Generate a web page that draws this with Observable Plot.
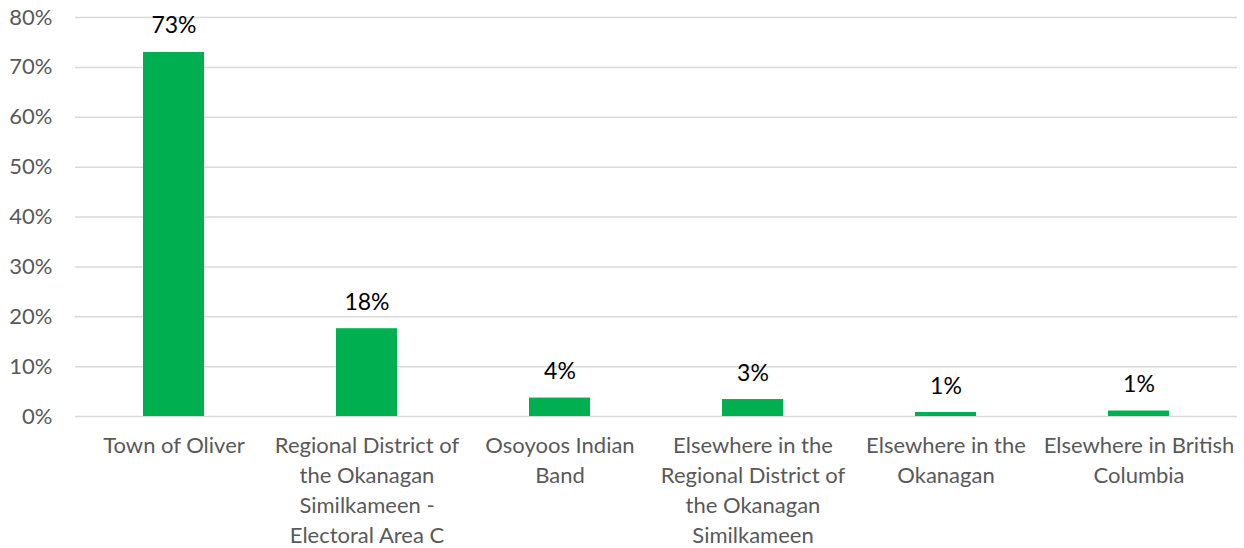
<!DOCTYPE html>
<html>
<head>
<meta charset="utf-8">
<script src="https://cdn.jsdelivr.net/npm/d3@7"></script>
<script src="https://cdn.jsdelivr.net/npm/@observablehq/plot@0.6"></script>
<style>
  html, body { margin: 0; padding: 0; background: #fff; }
  #chart { width: 1244px; height: 548px; }
</style>
</head>
<body>
<div id="chart"></div>
<script>
const categories = [
  "Town of Oliver",
  "Regional District of\nthe Okanagan\nSimilkameen -\nElectoral Area C",
  "Osoyoos Indian\nBand",
  "Elsewhere in the\nRegional District of\nthe Okanagan\nSimilkameen",
  "Elsewhere in the\nOkanagan",
  "Elsewhere in British\nColumbia"
];
const values = [73.0, 17.6, 3.7, 3.4, 0.8, 1.1];
const valueLabels = ["73%", "18%", "4%", "3%", "1%", "1%"];
const yTicks = [0, 10, 20, 30, 40, 50, 60, 70, 80];

const data = categories.map((c, i) => ({category: c, value: values[i], label: valueLabels[i]}));

const chart = Plot.plot({
  width: 1244,
  height: 548,
  marginLeft: 75,
  marginRight: 7,
  marginTop: 17,
  marginBottom: 132,
  style: {fontFamily: "Lato, 'Open Sans', sans-serif", background: "#fff"},
  x: {domain: categories, paddingInner: 0.685, paddingOuter: 0.3425, axis: null},
  y: {domain: [0, 80], axis: null},
  marks: [
    Plot.gridY(yTicks, {stroke: "#d9d9d9", strokeOpacity: 1, strokeWidth: 1.5}),
    Plot.axisY(yTicks, {
      tickSize: 0, tickPadding: 23, fontSize: 22, fill: "#595959",
      tickFormat: d => d + "%", label: null
    }),
    Plot.barY(data, {x: "category", y: "value", fill: "#00b050"}),
    Plot.text(data, {
      x: "category", y: "value", text: "label", dy: -19, lineAnchor: "bottom",
      fontSize: 23, fill: "#000"
    }),
    Plot.axisX(categories, {
      tickSize: 0, tickPadding: 15, fontSize: 22, fill: "#595959",
      lineHeight: 1.36, label: null
    })
  ]
});
document.getElementById("chart").appendChild(chart);
</script>
</body>
</html>
